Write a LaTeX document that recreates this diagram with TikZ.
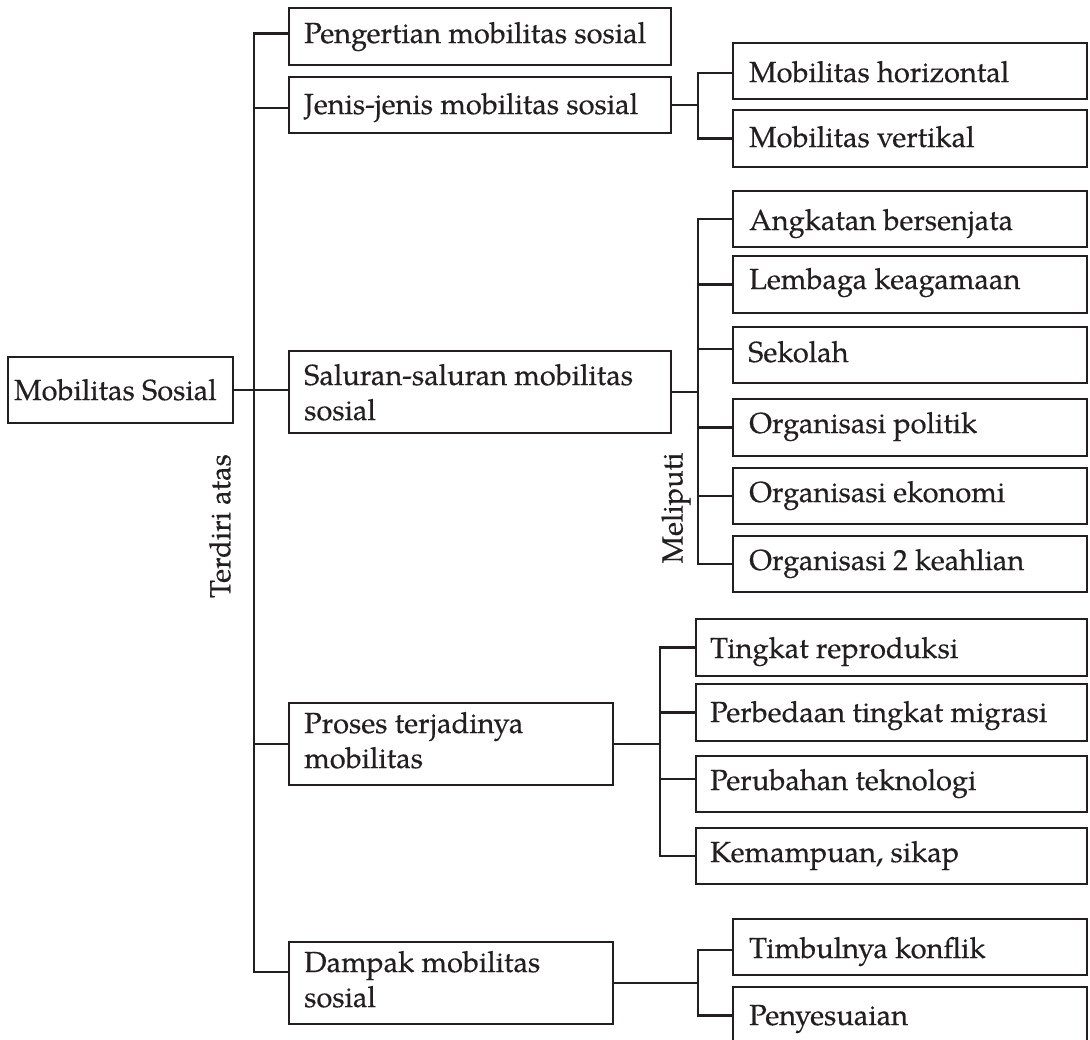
\documentclass[tikz,border=0pt]{standalone}
\usepackage{fontspec}
\setmainfont[FakeBold=0.4]{texgyrepagella-regular.otf}
\definecolor{ink}{RGB}{35,31,32}
\begin{document}
\begin{tikzpicture}[x=1pt,y=-1pt,
  box/.style={draw=ink, line width=2.6pt, rectangle, anchor=north west, inner sep=0pt, outer sep=0pt},
  lbl/.style={text=ink, inner sep=0pt, anchor=base west, align=left, font=\fontsize{29}{35}\selectfont},
  vlbl/.style={text=ink, inner sep=0pt, rotate=90, font=\fontsize{29}{35}\selectfont},
  link/.style={draw=ink, line width=2.6pt, line join=miter}]
\useasboundingbox (0,0) rectangle (1090,1040);
% root
\node[box, minimum width=225pt, minimum height=66pt] (root) at (8,357) {};
\node[lbl] (rootT) at (14,400) {Mobilitas Sosial};
% level 1
\node[box, minimum width=382pt, minimum height=57pt] (pen) at (289,8) {};
\node[lbl] (penT) at (304,43) {Pengertian mobilitas sosial};
\node[box, minimum width=382pt, minimum height=56pt] (jen) at (289,77) {};
\node[lbl] (jenT) at (304,114) {Jenis-jenis mobilitas sosial};
\node[box, minimum width=382pt, minimum height=82pt] (sal) at (289,351) {};
\node[lbl] (salT) at (304,420) {Saluran-saluran mobilitas\\sosial};
\node[box, minimum width=324pt, minimum height=82pt] (pro) at (289,703) {};
\node[lbl] (proT) at (304,768) {Proses terjadinya\\mobilitas};
\node[box, minimum width=324pt, minimum height=82pt] (dam) at (289,942) {};
\node[lbl] (damT) at (304,1007) {Dampak mobilitas\\sosial};
% jenis children
\node[box, minimum width=354pt, minimum height=56pt] (mh) at (733,43) {};
\node[lbl] (mhT) at (749,82) {Mobilitas horizontal};
\node[box, minimum width=354pt, minimum height=57pt] (mv) at (733,110) {};
\node[lbl] (mvT) at (749,147) {Mobilitas vertikal};
% saluran children
\node[box, minimum width=354pt, minimum height=56pt] (ang) at (733,191) {};
\node[lbl] (angT) at (749,230) {Angkatan bersenjata};
\node[box, minimum width=354pt, minimum height=57pt] (lem) at (733,256) {};
\node[lbl] (lemT) at (749,289) {Lembaga keagamaan};
\node[box, minimum width=354pt, minimum height=56pt] (sek) at (733,327) {};
\node[lbl] (sekT) at (748,362) {Sekolah};
\node[box, minimum width=354pt, minimum height=57pt] (pol) at (733,399) {};
\node[lbl] (polT) at (749,433) {Organisasi politik};
\node[box, minimum width=354pt, minimum height=56pt] (eko) at (733,468) {};
\node[lbl] (ekoT) at (749,502) {Organisasi ekonomi};
\node[box, minimum width=354pt, minimum height=56pt] (org) at (733,536) {};
\node[lbl] (orgT) at (749,570) {Organisasi 2 keahlian};
% proses children
\node[box, minimum width=391pt, minimum height=57pt] (tin) at (696,619) {};
\node[lbl] (tinT) at (710,658) {Tingkat reproduksi};
\node[box, minimum width=391pt, minimum height=57pt] (per) at (696,684) {};
\node[lbl] (perT) at (710,722) {Perbedaan tingkat migrasi};
\node[box, minimum width=391pt, minimum height=56pt] (pru) at (696,756) {};
\node[lbl] (pruT) at (710,790) {Perubahan teknologi};
\node[box, minimum width=391pt, minimum height=56pt] (kem) at (696,828) {};
\node[lbl] (kemT) at (710,862) {Kemampuan, sikap};
% dampak children
\node[box, minimum width=354pt, minimum height=56pt] (tim) at (733,919) {};
\node[lbl] (timT) at (749,958) {Timbulnya konflik};
\node[box, minimum width=354pt, minimum height=57pt] (pny) at (733,987) {};
\node[lbl] (pnyT) at (749,1025) {Penyesuaian};
% side labels
\node[vlbl] (terdiri) at (220,526) {Terdiri atas};
\node[vlbl] (meliputi) at (676,508) {Meliputi};
% connectors
\coordinate (T) at (254,0);
\coordinate (J) at (698,0);
\coordinate (S) at (698,0);
\coordinate (P) at (660,0);
\coordinate (D) at (698,0);
\draw[link] ([yshift=3pt]pen.west) -- ([yshift=3pt]pen.west -| T) |- ([yshift=11pt]dam.west);
\draw[link] ([yshift=-3pt]jen.west) -- ([yshift=-3pt]jen.west -| T);
\draw[link] (root.east) -- (root.east -| sal.west);
\draw[link] (pro.west) -- (pro.west -| T);
\draw[link] (jen.east) -- (jen.east -| J);
\draw[link] ([yshift=-2pt]mh.west) -- ([yshift=-2pt]mh.west -| J) |- (mv.west);
\draw[link] (sal.east) -- (sal.east -| S);
\draw[link] (ang.west) -- (ang.west -| S) |- (org.west);
\draw[link] (lem.west) -- (lem.west -| S);
\draw[link] ([yshift=6pt]sek.west) -- ([yshift=6pt]sek.west -| S);
\draw[link] (pol.west) -- (pol.west -| S);
\draw[link] (eko.west) -- (eko.west -| S);
\draw[link] (pro.east) -- (pro.east -| P);
\draw[link] (tin.west) -- (tin.west -| P) |- (kem.west);
\draw[link] (per.west) -- (per.west -| P);
\draw[link] ([yshift=5pt]pru.west) -- ([yshift=5pt]pru.west -| P);
\draw[link] (dam.east) -- (dam.east -| D);
\draw[link] ([yshift=-3pt]tim.west) -- ([yshift=-3pt]tim.west -| D) |- (pny.west);
\end{tikzpicture}
\end{document}
